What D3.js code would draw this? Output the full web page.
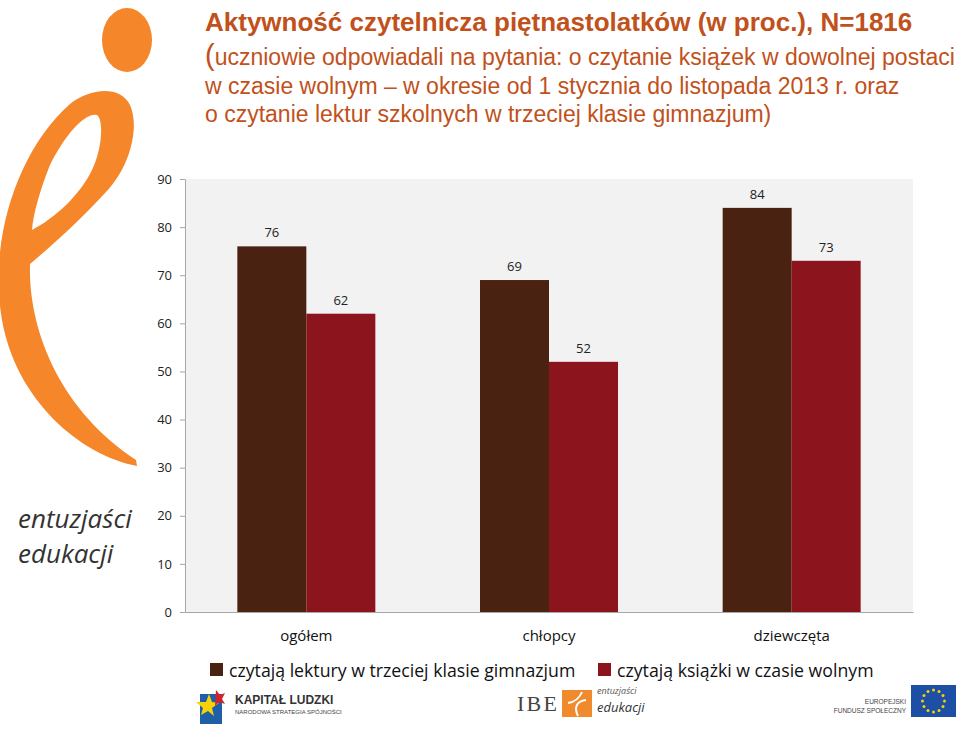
<!DOCTYPE html>
<html><head><meta charset="utf-8">
<script src="https://cdn.jsdelivr.net/npm/d3@7"></script>
<style>body{margin:0;background:#fff;} svg{display:block;}</style>
</head><body>
<svg id="c" width="960" height="731"></svg>
<script>
const categories = ["ogółem", "chłopcy", "dziewczęta"];
const seriesNames = ["czytają lektury w trzeciej klasie gimnazjum", "czytają książki w czasie wolnym"];
const lektury = [76, 69, 84];
const wolny = [62, 52, 73];
const yTicks = [0, 10, 20, 30, 40, 50, 60, 70, 80, 90];
const titleText = "Aktywność czytelnicza piętnastolatków (w proc.), N=1816";
const subtitleLines = [
  "uczniowie odpowiadali na pytania: o czytanie książek w dowolnej postaci",
  "w czasie wolnym – w okresie od 1 stycznia do listopada 2013 r. oraz",
  "o czytanie lektur szkolnych w trzeciej klasie gimnazjum)"
];
const colors = ["#4a2211", "#8c141c"];

const svg = d3.select("#c");
const L = 185, R = 913, T = 179, B = 612;

// Logo "e"
const orange = "#f5862a";
svg.append("ellipse").attr("cx", 127).attr("cy", 40).attr("rx", 25).attr("ry", 32).attr("fill", orange);
svg.append("path").attr("fill", orange).attr("fill-rule", "evenodd")
  .attr("d", "M137,466 C80,455 16,400 2,320 C-12,240 18,150 70,104 C90,88 120,85 130,105 C140,127 130,167 106,192 C80,220 56,242 30,264 C28,330 60,410 136,460 Z " +
             "M97,115 C85,112 65,135 50,165 C40,190 33,215 32,230 C55,218 80,195 92,170 C102,150 104,120 97,115 Z");
svg.append("text").attr("x", 18).attr("y", 528).attr("font-family", "Open Sans").attr("font-style", "italic")
  .attr("font-size", 26).attr("fill", "#333").text("entuzjaści");
svg.append("text").attr("x", 18).attr("y", 563).attr("font-family", "Open Sans").attr("font-style", "italic")
  .attr("font-size", 26).attr("fill", "#333").text("edukacji");

// Title
const titleColor = "#c1511b";
svg.append("text").attr("x", 205).attr("y", 31).attr("font-family", "Liberation Sans, Arial").attr("font-weight", "bold")
  .attr("font-size", 26).attr("fill", titleColor).text(titleText);
subtitleLines.forEach((t, i) => {
  const tx = svg.append("text").attr("x", 205).attr("y", 65 + i * 28.5).attr("font-family", "Liberation Sans, Arial")
    .attr("font-size", 23).attr("fill", titleColor);
  if (i === 0) {
    tx.append("tspan").attr("font-size", 29).text("(");
    tx.append("tspan").text(t);
  } else tx.text(t);
});

// Plot
svg.append("rect").attr("x", L).attr("y", T).attr("width", R - L).attr("height", B - T).attr("fill", "#f2f2f2");

const y = d3.scaleLinear().domain([0, 90]).range([B, T]);
const x0 = d3.scaleBand().domain(categories).range([L, R]).paddingInner(0).paddingOuter(0);
const bw = x0.bandwidth();
const x1 = d3.scaleBand().domain([0, 1]).range([(bw - 138) / 2, (bw + 138) / 2]);

const data = categories.map((c, i) => ({c, vals: [lektury[i], wolny[i]]}));
const g = svg.append("g").selectAll("g").data(data).join("g").attr("transform", d => `translate(${x0(d.c)},0)`);
g.selectAll("rect").data(d => d.vals.map((v, k) => ({v, k}))).join("rect")
  .attr("x", d => x1(d.k)).attr("width", x1.bandwidth())
  .attr("y", d => y(d.v)).attr("height", d => B - y(d.v)).attr("fill", d => colors[d.k]);
g.selectAll("text").data(d => d.vals.map((v, k) => ({v, k}))).join("text")
  .attr("x", d => x1(d.k) + x1.bandwidth() / 2).attr("y", d => y(d.v) - 9)
  .attr("text-anchor", "middle").attr("font-family", "Open Sans").attr("font-size", 13).attr("fill", "#222")
  .text(d => d.v);

// Axes
const yAxis = svg.append("g").attr("transform", `translate(${L},0)`)
  .call(d3.axisLeft(y).tickValues(yTicks).tickSize(5).tickPadding(8).tickSizeOuter(0));
yAxis.select(".domain").attr("stroke", "#a6a6a6");
yAxis.selectAll(".tick line").attr("stroke", "#a6a6a6");
yAxis.selectAll("text").attr("font-family", "Open Sans").attr("font-size", 13).attr("fill", "#222");

const xAxis = svg.append("g").attr("transform", `translate(0,${B})`)
  .call(d3.axisBottom(x0).tickSize(0).tickPadding(18).tickSizeOuter(0));
xAxis.select(".domain").attr("stroke", "#a6a6a6");
xAxis.selectAll("text").attr("font-family", "Open Sans").attr("font-size", 15).attr("fill", "#111");

// Legend
const legX = [210, 598];
seriesNames.forEach((s, i) => {
  svg.append("rect").attr("x", legX[i]).attr("y", 663).attr("width", 13).attr("height", 13).attr("fill", colors[i]);
  svg.append("text").attr("x", legX[i] + 19).attr("y", 677).attr("font-family", "Open Sans").attr("font-size", 17.7)
    .attr("fill", "#111").text(s);
});

// Footer logos (simplified)
const f = svg.append("g");
f.append("rect").attr("x", 200).attr("y", 694).attr("width", 22).attr("height", 30).attr("fill", "#1f5fa8");
f.append("path").attr("d", "M196,702 L206,702 L209,694 L212,702 L219,703 L212,708 L214,716 L208,711 L201,715 L203,708 Z").attr("fill", "#f5d20a");
f.append("path").attr("d", "M216,690 L220,695 L225,693 L222,699 L225,704 L219,702 L215,706 Z").attr("fill", "#d2232a");
f.append("text").attr("x", 235).attr("y", 704).attr("font-family", "Liberation Sans Narrow, Liberation Sans").attr("font-size", 12).attr("font-weight", "bold").attr("fill", "#333").text("KAPITAŁ LUDZKI");
f.append("text").attr("x", 235).attr("y", 714).attr("font-family", "Liberation Sans Narrow, Liberation Sans").attr("font-size", 6).attr("fill", "#444").text("NARODOWA STRATEGIA SPÓJNOŚCI");
f.append("text").attr("x", 517).attr("y", 711).attr("font-family", "Liberation Serif").attr("font-size", 22).attr("fill", "#444").attr("textLength", 40).text("IBE");
f.append("rect").attr("x", 562).attr("y", 690).attr("width", 30).attr("height", 27).attr("fill", "#f08a2c");
f.append("path").attr("d", "M568,703 C575,702 580,697 582,692 M578,716 C574,708 576,701 586,700").attr("stroke", "#fff").attr("stroke-width", 2).attr("fill", "none");
f.append("text").attr("x", 597).attr("y", 712).attr("font-family", "Open Sans").attr("font-style", "italic").attr("font-size", 13).attr("fill", "#333").text("edukacji");
f.append("text").attr("x", 597).attr("y", 694).attr("font-family", "Open Sans").attr("font-style", "italic").attr("font-size", 9).attr("fill", "#555").text("entuzjaści");
f.append("text").attr("x", 906).attr("y", 704).attr("text-anchor", "end").attr("font-family", "Liberation Sans Narrow, Liberation Sans").attr("font-size", 6.5).attr("fill", "#444").text("EUROPEJSKI");
f.append("text").attr("x", 906).attr("y", 713).attr("text-anchor", "end").attr("font-family", "Liberation Sans Narrow, Liberation Sans").attr("font-size", 6.5).attr("fill", "#444").text("FUNDUSZ SPOŁECZNY");
f.append("rect").attr("x", 911).attr("y", 685).attr("width", 45).attr("height", 32).attr("fill", "#1d4fa5");
d3.range(12).forEach(i => {
  const a = i / 12 * 2 * Math.PI;
  f.append("circle").attr("cx", 933.5 + 11 * Math.cos(a)).attr("cy", 701 + 11 * Math.sin(a)).attr("r", 1.5).attr("fill", "#f5d20a");
});
</script>
</body></html>
